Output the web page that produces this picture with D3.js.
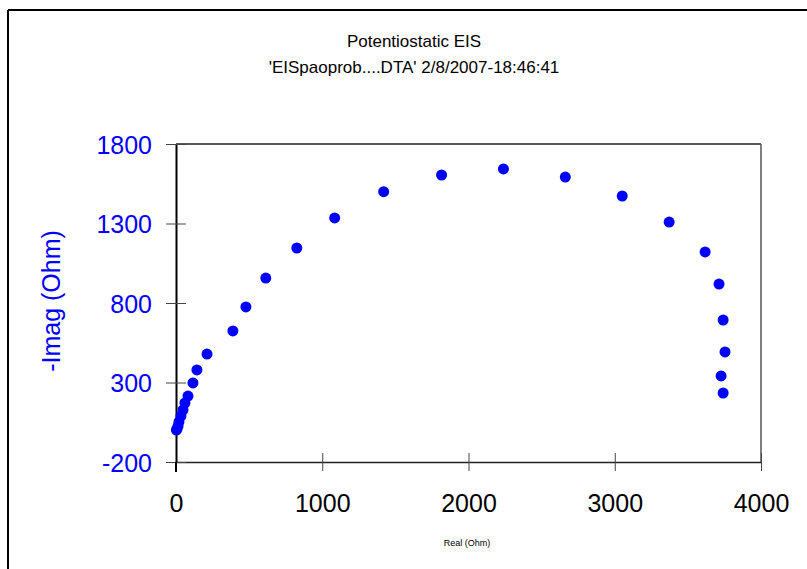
<!DOCTYPE html>
<html>
<head>
<meta charset="utf-8">
<script src="https://cdn.jsdelivr.net/npm/d3@7"></script>
<style>
html,body{margin:0;padding:0;background:#fff;}
svg{display:block;font-family:"Liberation Sans",Arial,sans-serif;}
</style>
</head>
<body>
<svg id="chart" width="807" height="569"></svg>
<script>
const realOhm = [3, 7, 14, 20, 34, 48, 61, 82, 116, 143, 212, 389, 478, 614, 826, 1085, 1420, 1816, 2239, 2662, 3051, 3372, 3618, 3713, 3741, 3754, 3727, 3741];
const imagOhm = [1, 8, 26, 52, 89, 127, 171, 215, 297, 379, 479, 624, 775, 957, 1146, 1335, 1500, 1605, 1643, 1592, 1473, 1309, 1121, 919, 693, 492, 341, 234];
const xTicks = [0, 1000, 2000, 3000, 4000];
const yTicks = [-200, 300, 800, 1300, 1800];
const titleLines = ["Potentiostatic EIS", "'EISpaoprob....DTA' 2/8/2007-18:46:41"];
const xLabel = "Real (Ohm)";
const yLabel = "-Imag (Ohm)";

const svg = d3.select("#chart");
const L = 176, R = 761, T = 144, B = 462;
const x = d3.scaleLinear().domain([0, 4000]).range([L, R]);
const y = d3.scaleLinear().domain([-200, 1800]).range([B, T]);

// outer frame
svg.append("line").attr("x1", 8).attr("y1", 10).attr("x2", 807).attr("y2", 10).attr("stroke", "#000").attr("stroke-width", 2);
svg.append("line").attr("x1", 8).attr("y1", 10).attr("x2", 8).attr("y2", 569).attr("stroke", "#000").attr("stroke-width", 2);

// title
svg.selectAll(".title").data(titleLines).enter().append("text")
  .attr("x", 414).attr("y", (d, i) => 47 + i * 26)
  .attr("text-anchor", "middle").attr("font-size", 17).attr("fill", "#000")
  .text(d => d);

// plot box top & right
svg.append("line").attr("x1", L).attr("y1", T).attr("x2", R).attr("y2", T).attr("stroke", "#222").attr("stroke-width", 1.5);
svg.append("line").attr("x1", R).attr("y1", T).attr("x2", R).attr("y2", B).attr("stroke", "#555").attr("stroke-width", 1.5);

// x axis
const xAxis = svg.append("g").attr("transform", `translate(0,${B})`)
  .call(d3.axisBottom(x).tickValues(xTicks).tickFormat(d => String(d)).tickSize(0).tickPadding(0));
xAxis.select(".domain").attr("stroke", "#222").attr("stroke-width", 1.5);
xAxis.selectAll(".tick line").attr("y1", -9).attr("y2", 9).attr("stroke", "#444").attr("stroke-width", 1);
xAxis.selectAll(".tick text").attr("y", 50).attr("dy", 0).attr("font-size", 25).attr("fill", "#000")
  .attr("font-family", "'Liberation Sans',Arial,sans-serif");

// y axis
const yAxis = svg.append("g").attr("transform", `translate(${L},0)`)
  .call(d3.axisLeft(y).tickValues(yTicks).tickFormat(d => String(d)).tickSize(0).tickPadding(0));
yAxis.select(".domain").attr("stroke", "#000").attr("stroke-width", 2);
yAxis.selectAll(".tick line").attr("x1", -10).attr("x2", 10).attr("stroke", "#444").attr("stroke-width", 1);
yAxis.selectAll(".tick text").attr("x", -24).attr("dy", "0.36em").attr("font-size", 25).attr("fill", "#0000ff")
  .attr("font-family", "'Liberation Sans',Arial,sans-serif");
// extend y axis below x axis
svg.append("line").attr("x1", L).attr("y1", B).attr("x2", L).attr("y2", B + 10).attr("stroke", "#000").attr("stroke-width", 2);

// axis labels
svg.append("text").attr("x", 467).attr("y", 546).attr("text-anchor", "middle")
  .attr("font-size", 9).attr("fill", "#000").text(xLabel);
svg.append("text").attr("transform", "translate(60,301) rotate(-90)").attr("text-anchor", "middle")
  .attr("font-size", 25).attr("fill", "#0000ff").text(yLabel);

// points
const pts = realOhm.map((d, i) => ({re: d, im: imagOhm[i]}));
svg.append("g").selectAll("circle").data(pts).enter().append("circle")
  .attr("cx", d => x(d.re)).attr("cy", d => y(d.im)).attr("r", 5.5)
  .attr("fill", "#0000ff");
</script>
</body>
</html>
